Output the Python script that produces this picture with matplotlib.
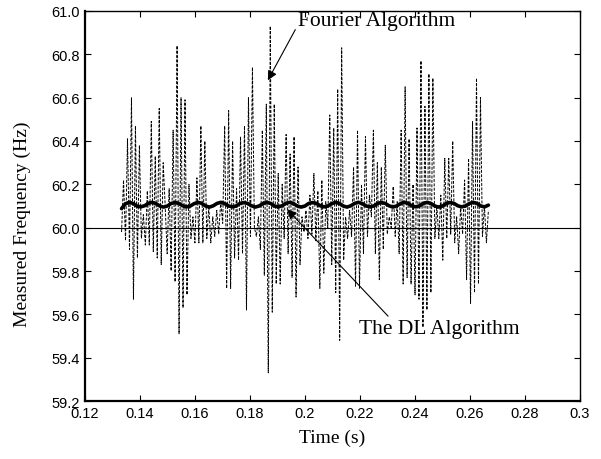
import numpy as np
import matplotlib
matplotlib.use("Agg")
import matplotlib.pyplot as plt

# values
fourier_hz = [
    59.98, 60.22, 59.94, 60.41, 59.90, 60.60, 59.67, 60.47, 59.86, 60.38,
    59.95, 60.06, 59.92, 60.17, 59.92, 60.49, 59.89, 60.33, 59.86, 60.55,
    59.83, 60.30, 60.10, 59.88, 60.18, 59.80, 60.45, 59.75, 60.84, 59.51,
    60.60, 59.63, 60.59, 59.69, 60.20, 59.95, 60.05, 59.93, 60.23, 59.93,
    60.47, 59.93, 60.40, 59.95, 60.10, 59.93, 60.05, 59.96, 60.08, 59.97,
    60.12, 60.02, 60.47, 59.72, 60.54, 59.72, 60.40, 59.86, 60.18, 59.85,
    60.42, 59.88, 60.47, 59.62, 60.60, 59.96, 60.74, 60.00, 59.96, 60.05,
    59.90, 60.45, 59.78, 60.57, 59.33, 60.93, 59.61, 60.57, 59.74, 60.25,
    59.74, 60.20, 59.95, 60.43, 59.88, 60.34, 59.77, 60.42, 59.68, 60.28,
    59.83, 60.05, 59.98, 60.08, 59.95, 60.15, 59.97, 60.25, 59.94, 60.17,
    59.72, 60.22, 59.79, 60.12, 60.00, 60.52, 59.83, 60.46, 59.70, 60.64,
    59.48, 60.83, 59.85, 60.05, 59.95, 60.08, 59.96, 60.28, 59.73, 60.45,
    59.72, 60.20, 59.88, 60.42, 59.96, 60.15, 60.05, 60.45, 59.88, 60.30,
    59.76, 60.28, 59.90, 60.38, 59.97, 60.05, 60.00, 60.19, 59.96, 60.12,
    59.88, 60.45, 59.74, 60.65, 59.77, 60.41, 59.74, 60.20, 59.69, 60.46,
    59.67, 60.77, 59.54, 60.56, 59.62, 60.71, 59.70, 60.69, 59.95, 60.10,
    59.95, 60.15, 59.85, 60.32, 59.95, 60.32, 59.97, 60.40, 59.93, 60.05,
    59.88, 60.10, 59.97, 60.22, 59.76, 60.32, 59.65, 60.49, 59.70, 60.69,
    59.74, 60.60, 59.96, 60.10, 59.93, 60.08,
]

dl_hz = [
    60.088, 60.110, 60.117, 60.112, 60.100, 60.096,
    60.101, 60.112, 60.117, 60.111, 60.100, 60.095,
    60.100, 60.112, 60.116, 60.112, 60.101, 60.096,
    60.100, 60.111, 60.117, 60.112, 60.100, 60.095,
    60.101, 60.112, 60.117, 60.111, 60.100, 60.096,
    60.100, 60.112, 60.116, 60.112, 60.101, 60.095,
    60.100, 60.111, 60.117, 60.112, 60.100, 60.096,
    60.101, 60.112, 60.117, 60.111, 60.100, 60.095,
    60.100, 60.112, 60.116, 60.112, 60.101, 60.096,
    60.100, 60.111, 60.117, 60.112, 60.100, 60.095,
    60.101, 60.112, 60.117, 60.111, 60.100, 60.096,
    60.100, 60.112, 60.116, 60.112, 60.101, 60.095,
    60.100, 60.111, 60.117, 60.112, 60.100, 60.096,
    60.101, 60.112, 60.117, 60.111, 60.100, 60.095,
    60.100, 60.112, 60.116, 60.112, 60.101, 60.096,
    60.100, 60.111, 60.117, 60.112, 60.100, 60.096,
    60.104,
]

t_start, t_end = 0.1333, 0.2667
x_ticks = [0.12, 0.14, 0.16, 0.18, 0.2, 0.22, 0.24, 0.26, 0.28, 0.3]
x_labels = ["0.12", "0.14", "0.16", "0.18", "0.2", "0.22", "0.24", "0.26", "0.28", "0.3"]
y_ticks = [59.2, 59.4, 59.6, 59.8, 60.0, 60.2, 60.4, 60.6, 60.8, 61.0]

t_fourier = np.linspace(t_start, t_end, len(fourier_hz))
t_dl = np.linspace(t_start, t_end, len(dl_hz))

fig = plt.figure(figsize=(6.01, 4.60), dpi=100)
ax = fig.add_axes([0.1414, 0.126, 0.8236, 0.848])

ax.axhline(60.0, color="black", lw=0.8)
ax.plot(t_fourier, fourier_hz, color="black", lw=0.7, linestyle=(0, (3, 1.5)))
ax.plot(t_dl, dl_hz, color="black", lw=2.6, solid_capstyle="round")

ax.set_xlim(0.12, 0.3)
ax.set_ylim(59.2, 61.0)
ax.set_xticks(x_ticks)
ax.set_xticklabels(x_labels)
ax.set_yticks(y_ticks)
ax.set_yticklabels(["%.1f" % v for v in y_ticks])
ax.tick_params(direction="in", top=True, right=True, length=4, width=0.8,
               labelsize=10.5)
for lab in ax.get_xticklabels() + ax.get_yticklabels():
    lab.set_family("Liberation Sans")
for s in ax.spines.values():
    s.set_linewidth(1.0)
ax.spines["left"].set_linewidth(1.6)
ax.spines["bottom"].set_linewidth(1.6)

serif = "Liberation Serif"
ax.set_xlabel("Time (s)", family=serif, fontsize=14, labelpad=6)
ax.set_ylabel("Measured Frequency (Hz)", family=serif, fontsize=14)
ax.yaxis.set_label_coords(-0.11, 0.455)

arrow = dict(arrowstyle="-|>", color="black", lw=0.8, mutation_scale=14,
             shrinkA=0, shrinkB=0)
ax.annotate("Fourier Algorithm", xy=(0.1865, 60.68), xytext=(0.1975, 60.955),
            family=serif, fontsize=15.5, va="center", ha="left",
            arrowprops=dict(arrow, relpos=(0.0, 0.3)))
ax.annotate("The DL Algorithm", xy=(0.1935, 60.085), xytext=(0.2195, 59.535),
            family=serif, fontsize=15.5, va="center", ha="left",
            arrowprops=dict(arrow, relpos=(0.2, 1.0)))

fig.savefig("out.png", dpi=100)
